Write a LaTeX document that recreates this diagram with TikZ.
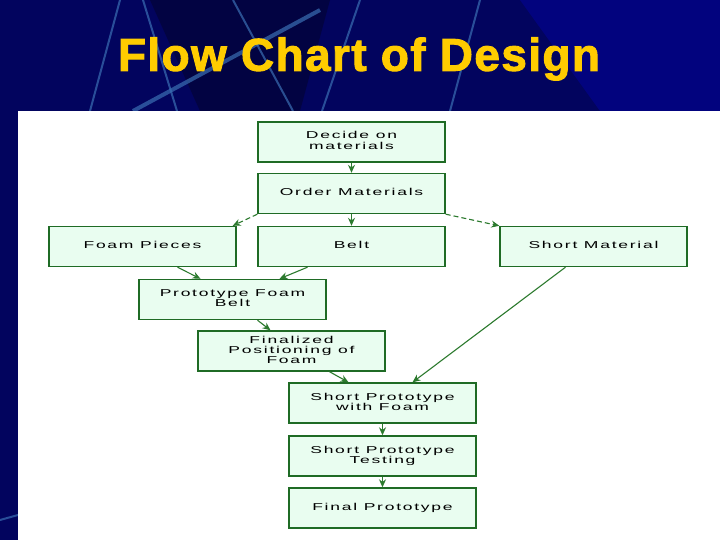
\documentclass[tikz,border=0pt]{standalone}
\usepackage{fontspec}
\usepackage{graphicx}
\setmainfont{Liberation Sans}
\newfontfamily\boxfont[LetterSpace=10]{Liberation Sans}
\newfontfamily\titlefont[LetterSpace=3,FakeBold=2]{Liberation Sans Bold}
\newcommand\widetext[1]{\raisebox{-1pt}{\scalebox{1.75}[1]{\begin{tabular}{@{}c@{}}#1\end{tabular}}}}
\usetikzlibrary{calc,arrows.meta}
\definecolor{navy}{HTML}{02045E}
\definecolor{streak}{HTML}{3A6EB3}
\definecolor{boxgreen}{HTML}{1F6B25}
\definecolor{boxfill}{HTML}{E9FDF0}
\definecolor{arrowgreen}{HTML}{2C7A2E}
\definecolor{titleyellow}{HTML}{FFCC00}
\tikzset{
  stepbox/.style={draw=boxgreen,line width=1.4pt,fill=boxfill,minimum width=187pt,minimum height=40pt,
    inner sep=1pt,align=center,font=\boxfont\fontsize{10}{10}\selectfont},
  link/.style={draw=arrowgreen,line width=1.1pt,-{Stealth[length=8pt,width=7pt]}},
  dlink/.style={link,dash pattern=on 5pt off 3pt},
}
\begin{document}
\begin{tikzpicture}[x=1pt,y=-1pt]
\useasboundingbox (0,0) rectangle (720,540);
% background
\fill[navy] (0,0) rectangle (720,540);
\fill[navy!70!black] (150,0) -- (330,0) -- (300,111) -- (200,111) -- cycle;
\fill[navy!80!blue] (520,0) -- (720,0) -- (720,111) -- (600,111) -- cycle;
\begin{scope}[line width=2pt,streak,opacity=0.7]
\draw[line width=4pt] (133,111) -- (320,10);
\draw (143,0) -- (177,111);
\draw (233,0) -- (293,111);
\draw (360,0) -- (322,111);
\draw (480,0) -- (450,111);
\draw (120,0) -- (90,111);
\draw (0,520) -- (18,515);
\end{scope}
% white panel
\fill[white] (18,111) rectangle (720,540);
% title
\node[font=\titlefont\fontsize{46}{50}\selectfont,text=titleyellow] (title) at (359,59) {Flow Chart of Design};
% boxes
\node[stepbox] (decide) at (351.5,142) {\widetext{Decide on\\materials}};
\node[stepbox] (order) at (351.5,193.5) {\widetext{Order Materials}};
\node[stepbox] (foam) at (142.5,246.5) {\widetext{Foam Pieces}};
\node[stepbox] (belt) at (351.5,246.5) {\widetext{Belt}};
\node[stepbox] (short) at (593.5,246.5) {\widetext{Short Material}};
\node[stepbox] (proto) at (232.5,299.5) {\widetext{Prototype Foam\\Belt}};
\node[stepbox] (final) at (291.5,351) {\widetext{Finalized\\Positioning of\\Foam}};
\node[stepbox] (withfoam) at (382.5,403) {\widetext{Short Prototype\\with Foam}};
\node[stepbox] (testing) at (382.5,456) {\widetext{Short Prototype\\Testing}};
\node[stepbox] (finalproto) at (382.5,508) {\widetext{Final Prototype}};
% connectors
\draw[link] (decide) -- (order);
\draw[link] (order) -- (belt);
\draw[dlink] (order.south west) -- ($(foam.north east)+(-4,0)$);
\draw[dlink] (order.south east) -- (short.north west);
\draw[link] ($(foam.south)+(35,0)$) -- ($(proto.north)+(-32,0)$);
\draw[link] ($(belt.south)+(-44,0)$) -- ($(proto.north)+(47,0)$);
\draw[link] ($(proto.south)+(25,0)$) -- ($(final.north)+(-21,0)$);
\draw[link] ($(final.south)+(38,0)$) -- ($(withfoam.north)+(-34,0)$);
\draw[link] ($(short.south)+(-28,0)$) -- ($(withfoam.north)+(30,0)$);
\draw[link] (withfoam) -- (testing);
\draw[link] (testing) -- (finalproto);
\end{tikzpicture}
\end{document}
